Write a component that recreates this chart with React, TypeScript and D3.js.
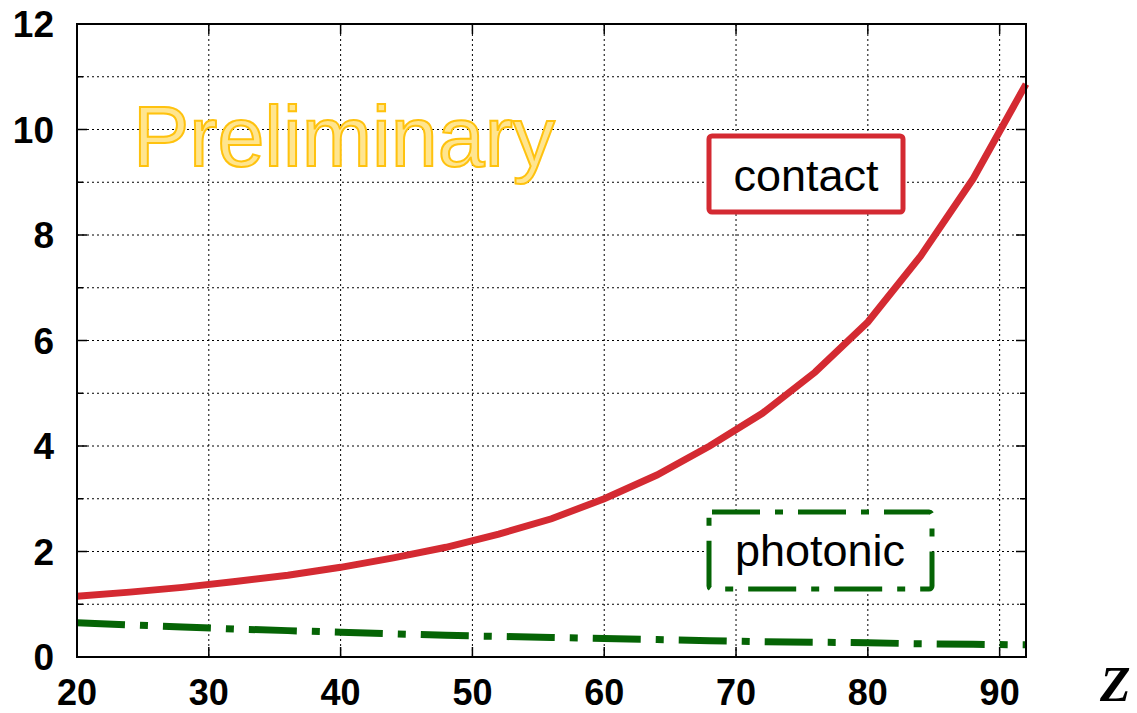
import React from "react";
import * as d3 from "d3";

const zValues = [20, 24, 28, 32, 36, 40, 44, 48, 52, 56, 60, 64, 68, 72, 76, 80, 84, 88, 92];
const contactValues = [1.15, 1.23, 1.32, 1.43, 1.55, 1.7, 1.88, 2.08, 2.33, 2.62, 3.0, 3.45, 4.0, 4.62, 5.4, 6.35, 7.6, 9.07, 10.86];
const photonicValues = [0.65, 0.61, 0.57, 0.53, 0.5, 0.47, 0.44, 0.41, 0.39, 0.37, 0.35, 0.33, 0.31, 0.29, 0.28, 0.27, 0.25, 0.24, 0.23];
const xTicks = [20, 30, 40, 50, 60, 70, 80, 90];
const yTicks = [0, 2, 4, 6, 8, 10, 12];
const yGrid = [1, 2, 3, 4, 5, 6, 7, 8, 9, 10, 11];

const W = 1137, H = 713;
const L = 77, R = 1026, T = 24, B = 657;
const RED = "#d42a32";
const GREEN = "#056405";
const DASH = "48,15,8,15";

export default function App() {
  const x = d3.scaleLinear().domain([20, 92]).range([L, R]);
  const y = d3.scaleLinear().domain([0, 12]).range([B, T]);
  const line = d3.line<number>().x((_, i) => x(zValues[i])).y((d) => y(d));
  const font = "Liberation Sans, Arial, sans-serif";
  return (
    <svg width={W} height={H} style={{ position: "absolute", left: 0, top: 0, background: "#fff" }}>
      {/* grid */}
      {yGrid.map((v) => (
        <line key={"hg" + v} x1={L} x2={R} y1={y(v)} y2={y(v)} stroke="#000" strokeWidth={1} strokeDasharray="2,3" />
      ))}
      {xTicks.slice(1).map((v) => (
        <line key={"vg" + v} x1={x(v)} x2={x(v)} y1={T} y2={B} stroke="#000" strokeWidth={1} strokeDasharray="2,3" />
      ))}
      {/* ticks */}
      {d3.range(0, 13).map((v) => {
        const len = v % 2 === 0 ? 10 : 6;
        return (
          <g key={"yt" + v}>
            <line x1={L} x2={L + len} y1={y(v)} y2={y(v)} stroke="#000" strokeWidth={1.5} />
            <line x1={R} x2={R - len} y1={y(v)} y2={y(v)} stroke="#000" strokeWidth={1.5} />
          </g>
        );
      })}
      {xTicks.map((v) => (
        <g key={"xt" + v}>
          <line x1={x(v)} x2={x(v)} y1={B} y2={B - 10} stroke="#000" strokeWidth={1.5} />
          <line x1={x(v)} x2={x(v)} y1={T} y2={T + 10} stroke="#000" strokeWidth={1.5} />
        </g>
      ))}
      {/* Preliminary watermark */}
      <text x={133} y={166} fontFamily={font} fontSize={86} fill="#ffe58f" stroke="#ffc20e" strokeWidth={2} textLength={422} lengthAdjust="spacingAndGlyphs">Preliminary</text>
      {/* series */}
      <path d={line(photonicValues) || ""} fill="none" stroke={GREEN} strokeWidth={7} strokeDasharray={DASH} />
      <path d={line(contactValues) || ""} fill="none" stroke={RED} strokeWidth={7} />
      {/* frame */}
      <rect x={L} y={T} width={R - L} height={B - T} fill="none" stroke="#000" strokeWidth={2} />
      {/* labels */}
      {yTicks.map((v) => (
        <text key={"yl" + v} x={54} y={y(v)} dy="0.36em" textAnchor="end" fontFamily={font} fontWeight="bold" fontSize={37}>{v}</text>
      ))}
      {xTicks.map((v) => (
        <text key={"xl" + v} x={x(v)} y={705} textAnchor="middle" fontFamily={font} fontWeight="bold" fontSize={36}>{v}</text>
      ))}
      <text x={1100} y={701} fontFamily="Liberation Serif, Times New Roman, serif" fontStyle="italic" fontWeight="bold" fontSize={50}>Z</text>
      {/* legend boxes */}
      <rect x={709} y={136} width={194} height={76} rx={3} fill="#fff" stroke={RED} strokeWidth={5} />
      <text x={806} y={191} textAnchor="middle" fontFamily={font} fontSize={45}>contact</text>
      <rect x={709} y={512} width={223} height={77} rx={3} fill="#fff" stroke={GREEN} strokeWidth={5} strokeDasharray={DASH} />
      <text x={820} y={566} textAnchor="middle" fontFamily={font} fontSize={45}>photonic</text>
    </svg>
  );
}
